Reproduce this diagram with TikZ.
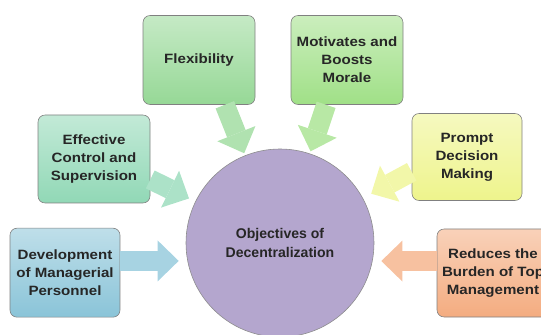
\documentclass[tikz,border=0pt]{standalone}
\usepackage{fontspec}
\setmainfont{Liberation Sans}
\newfontfamily\boxfont{Liberation Sans}[FakeStretch=1.12]
\usepackage{tikz}
\usetikzlibrary{arrows.meta}

\definecolor{flexgreen}{RGB}{150,216,150}
\definecolor{moralegreen}{RGB}{160,224,135}
\definecolor{controlmint}{RGB}{145,216,182}
\definecolor{develblue}{RGB}{138,196,216}
\definecolor{promptyellow}{RGB}{238,244,140}
\definecolor{burdenorange}{RGB}{244,172,128}
\definecolor{objlilac}{RGB}{180,166,206}

\tikzset{
  goalbox/.style={draw=black!50, line width=0.5pt, rounded corners=6pt,
    top color=#1!55!white, bottom color=#1,
    minimum width=3.36cm, minimum height=2.67cm, align=center,
    text=black!85, font=\boxfont\bfseries\fontsize{11.5}{15.3}\selectfont},
  goalarrow/.style={draw=#1!75!white, line width=17pt,
    -{Triangle[width=35pt,length=18pt,line width=0pt]}, shorten >=2pt},
}

\begin{document}
\begin{tikzpicture}
  \useasboundingbox (0,0) rectangle (16.23,10.02);
  \clip (0,0) rectangle (16.23,10.02);

  % centre
  \node[circle, draw=black!45, line width=0.5pt, fill=objlilac, minimum size=5.64cm,
    align=center, text=black!85, font=\bfseries\fontsize{12}{17}\selectfont]
    (obj) at (8.4,2.73) {Objectives of\\Decentralization};

  % objectives
  \node[goalbox=flexgreen]    (flex)   at (5.97,8.22)  {Flexibility};
  \node[goalbox=moralegreen]  (morale) at (10.41,8.22) {Motivates and\\Boosts\\Morale};
  \node[goalbox=controlmint, minimum height=2.64cm] (control) at (2.82,5.25) {Effective\\Control and\\Supervision};
  \node[goalbox=promptyellow, minimum width=3.3cm, minimum height=2.61cm] (prompt) at (14.01,5.31) {Prompt\\Decision\\Making};
  \node[goalbox=develblue, minimum width=3.3cm]    (devel)  at (1.95,1.84)  {Development\\of Managerial\\Personnel};
  \node[goalbox=burdenorange, minimum height=2.64cm] (burden) at (14.79,1.83) {Reduces the\\Burden of Top\\Management};

  % arrows into the centre
  \draw[goalarrow=flexgreen]    (flex.-60)    -- (obj);
  \draw[goalarrow=moralegreen]  (morale.-115) -- (obj);
  \draw[goalarrow=controlmint, shorten >=6pt] (control.-20) -- (obj);
  \draw[goalarrow=promptyellow, shorten >=8pt] (prompt.195) -- (obj);
  \draw[goalarrow=develblue, shorten >=6pt]    (devel.12)   -- (devel.12 -| obj.west);
  \draw[goalarrow=burdenorange, shorten >=6pt] (burden.168) -- (burden.168 -| obj.east);

\end{tikzpicture}
\end{document}
